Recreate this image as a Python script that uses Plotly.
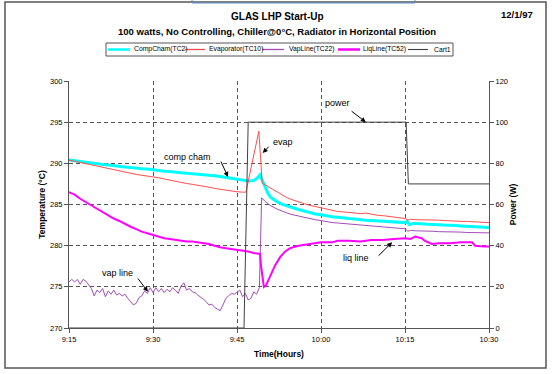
import plotly.graph_objects as go

# ---------------- data (minutes after 9:15) ----------------
tick_minutes = [0, 15, 30, 45, 60, 75]
tick_labels = ["9:15", "9:30", "9:45", "10:00", "10:15", "10:30"]

comp_t = [0,1,2,3,4,5,6,7,8,9,10,11,12,13,14,15,16,17,18,19,20,21,22,23,24,25,26,27,28,29,30,31,32,33,33.6,34.1,34.5,35,35.5,36,37,38,39,40,41,42,43,44,45,46,47,48,49,50,51,52,53,54,55,56,57,58,59,60,60.4,60.8,61.5,62,63,64,65,66,67,68,69,70,71,72,73,74,75]
comp_v = [290.4,290.3,290.2,290.1,290.0,289.9,289.85,289.8,289.7,289.6,289.55,289.5,289.4,289.35,289.3,289.2,289.15,289.05,289.0,288.9,288.85,288.8,288.75,288.7,288.6,288.55,288.5,288.4,288.3,288.15,288.05,287.95,287.85,287.9,288.2,288.6,287.9,287.1,286.4,285.9,285.4,285.05,284.8,284.6,284.4,284.2,284.05,283.85,283.75,283.6,283.5,283.45,283.35,283.3,283.25,283.15,283.1,283.05,283.0,282.95,282.95,282.9,282.85,282.8,282.95,282.55,282.7,282.7,282.65,282.6,282.6,282.55,282.5,282.5,282.45,282.4,282.35,282.35,282.3,282.25,282.2]

evap_t = [0,1,2,3,4,5,6,7,8,9,10,11,12,13,14,15,16,17,18,19,20,21,22,23,24,25,26,27,28,29,30,31,31.6,33.9,34.5,35,36,37,38,39,40,41,42,43,44,45,46,47,48,49,50,51,52,53,54,55,56,57,58,59,60,60.5,61,62,63,64,65,66,67,68,69,70,71,72,73,74,75]
evap_v = [290.4,290.25,290.1,289.95,289.8,289.65,289.5,289.35,289.2,289.05,288.9,288.8,288.65,288.55,288.45,288.4,288.25,288.1,287.95,287.8,287.7,287.55,287.45,287.35,287.2,287.1,286.95,286.85,286.7,286.6,286.55,286.5,286.5,293.9,287.6,287.4,287.0,286.5,286.1,285.8,285.55,285.3,285.1,284.9,284.75,284.6,284.4,284.3,284.15,284.1,284.05,283.95,283.9,283.95,283.8,283.7,283.65,283.55,283.45,283.4,283.3,283.1,283.2,283.15,283.15,283.1,283.1,283.1,283.05,283.0,283.0,282.95,282.95,282.9,282.85,282.8,282.8]

vap_t = [0,0.5,1,1.5,2,2.5,3,3.5,4,4.5,5,5.5,6,6.5,7,7.5,8,8.5,9,9.5,10,10.5,11,11.5,12,12.5,13,13.5,14,14.5,15,15.5,16,16.5,17,17.5,18,18.5,19,19.5,20,20.5,21,21.5,22,22.5,23,23.5,24,24.5,25,25.5,26,26.5,27,27.5,28,28.5,29,29.5,30,30.5,31,31.5,32,32.5,33,33.5,34,34.4,35,35.9,37,38,39,40,41,42,43,44,45,46,47,48,49,50,51,52,53,54,55,56,57,58,59,60,60.5,61,62,63,64,65,66,67,68,69,70,71,72,73,74,75]
vap_v = [275.6,275.9,275.6,275.9,275.3,275.9,275.7,275.3,274.8,273.9,274.6,274.3,274.8,273.8,274.5,274.1,274.6,274.0,274.2,273.9,274.1,273.6,273.2,272.8,273.0,273.7,273.9,274.5,274.2,274.9,274.3,274.9,274.4,274.8,274.3,274.7,274.4,274.9,274.6,274.2,275.1,275.5,274.6,274.8,274.4,274.3,274.0,273.8,273.5,273.2,272.8,272.9,272.5,272.3,272.1,272.8,273.6,273.9,274.2,274.1,274.4,274.6,273.8,274.2,273.4,273.6,274.4,274.1,274.9,285.8,285.4,284.9,284.5,284.2,283.95,283.75,283.6,283.4,283.3,283.15,283.05,282.9,282.8,282.75,282.7,282.6,282.55,282.5,282.45,282.4,282.35,282.3,282.2,282.15,282.1,282.05,281.75,281.85,281.8,281.8,281.75,281.75,281.7,281.7,281.7,281.65,281.65,281.6,281.6,281.6,281.55,281.55]

liq_t = [0,1,2,3,4,5,6,7,8,9,10,11,12,13,14,15,16,17,18,19,20,21,22,23,24,25,26,27,28,29,30,31,32,33,34.1,34.3,34.8,35.2,35.9,36.8,37.7,38.6,39.5,41,43,45,47,48,50,52,54,56,58,60,61,61.8,63,63.5,64.8,66,68,70,72,72.5,74,75]
liq_v = [286.5,286.2,285.7,285.3,284.8,284.4,284.0,283.6,283.3,283.0,282.6,282.3,282.0,281.7,281.5,281.3,281.1,280.9,280.8,280.7,280.6,280.5,280.5,280.4,280.3,280.2,280.0,279.8,279.7,279.6,279.5,279.4,279.3,279.1,279.0,277.5,275.0,275.2,276.3,277.6,278.6,279.3,279.7,280.0,280.2,280.4,280.4,280.6,280.6,280.5,280.7,280.7,280.8,280.9,280.8,281.1,280.9,280.6,280.2,280.3,280.3,280.4,280.4,280.0,279.9,279.9]

power_t = [0, 31.25, 32, 60.2, 60.6, 75]
power_w = [0, 0, 100, 100, 70, 70]

series_names = ["CompCham(TC2)", "Evaporator(TC10)", "VapLine(TC22)", "LiqLine(TC52)", "Cart1"]
series_colors = ["#00FFFF", "#FF4D4D", "#A24DB8", "#FF00FF", "#404040"]
series_widths = [3, 1, 1, 2, 1]
legend_widths = [2.5, 1.3, 1.3, 2.5, 1.1]

FONT = "Liberation Sans, Arial, sans-serif"

fig = go.Figure()
xs = [comp_t, evap_t, vap_t, liq_t, power_t]
ys = [comp_v, evap_v, vap_v, liq_v, power_w]
for i in range(5):
    fig.add_trace(go.Scatter(x=xs[i], y=ys[i], mode="lines", name=series_names[i],
                             yaxis="y2" if i == 4 else "y", showlegend=False,
                             line=dict(color=series_colors[i], width=series_widths[i])))

def px2paper(px, py):
    return (px - 69) / 420.0, (328 - py) / 247.0

ann = []
shapes = []
# titles
for txt, (px, py), size in [("<b>GLAS LHP Start-Up</b>", (277, 16), 10),
                            ("<b>100 watts, No Controlling, Chiller@0°C, Radiator in Horizontal Position</b>", (277, 31), 9.5),
                            ("<b>12/1/97</b>", (517, 15), 9.5)]:
    x, y = px2paper(px, py)
    ann.append(dict(text=txt, x=x, y=y, xref="paper", yref="paper", showarrow=False,
                    xanchor="center", yanchor="middle", font=dict(size=size, color="black", family=FONT)))

# legend box (drawn as shapes + text)
lx0, ly0 = px2paper(106, 56)
lx1, ly1 = px2paper(453, 43)
shapes.append(dict(type="rect", xref="paper", yref="paper", x0=lx0, y0=ly0, x1=lx1, y1=ly1,
                   line=dict(color="#555555", width=1), fillcolor="white", layer="below"))
leg_line_px = [(108, 130), (185, 205), (262, 284), (338, 360), (408, 428)]
leg_text_px = [132, 207, 287, 361, 432]
for i in range(5):
    a, yy = px2paper(leg_line_px[i][0], 49.5)
    b, _ = px2paper(leg_line_px[i][1], 49.5)
    shapes.append(dict(type="line", xref="paper", yref="paper", x0=a, x1=b, y0=yy, y1=yy,
                       line=dict(color=series_colors[i], width=legend_widths[i])))
    tx, _ = px2paper(leg_text_px[i], 49.5)
    ann.append(dict(text=series_names[i], x=tx, y=yy, xref="paper", yref="paper", showarrow=False,
                    xanchor="left", yanchor="middle", font=dict(size=6.8, color="black", family=FONT)))

# labels + arrows (data coords)
labels = [("comp cham", 21.1, 290.8, "y"), ("evap", 38.2, 292.6, "y"),
          ("power", 47.9, 109.3, "y2"), ("vap line", 8.6, 276.7, "y"), ("liq line", 51.25, 278.5, "y")]
for txt, x, y, yr in labels:
    ann.append(dict(text=txt, x=x, y=y, xref="x", yref=yr, showarrow=False,
                    font=dict(size=9, color="black", family=FONT)))
arrows = [(27.0, 290.4, 28.4, 288.35, "y"), (35.9, 292.2, 34.6, 291.25, "y"),
          (50.2, 105.9, 53.0, 100.0, "y2"), (12.1, 276.2, 14.1, 274.4, "y"),
          (55.0, 278.6, 57.7, 280.4, "y")]
for ax_, ay_, x, y, yr in arrows:
    ann.append(dict(text="", x=x, y=y, xref="x", yref=yr, ax=ax_, ay=ay_, axref="x", ayref=yr,
                    showarrow=True, arrowhead=2, arrowsize=1, arrowwidth=1, arrowcolor="black", standoff=0))

fx0, fy0 = px2paper(5, 368)
fx1, fy1 = px2paper(546, 2)
bx0, by0 = px2paper(192, 3)
bx1, by1 = px2paper(415, -3)
shapes += [dict(type="rect", xref="paper", yref="paper", x0=fx0, y0=fy0, x1=fx1, y1=fy1,
                line=dict(color="#555555", width=1.5), layer="below"),
           dict(type="rect", xref="paper", yref="paper", x0=bx0, y0=by0, x1=bx1, y1=by1,
                line=dict(color="#5B8FC7", width=1))]

axis_common = dict(showline=True, linecolor="#555555", linewidth=1, ticks="outside", ticklen=4,
                   tickcolor="#555555", tickfont=dict(size=7.5, color="black", family=FONT),
                   automargin=False, zeroline=False)

fig.update_layout(
    width=554, height=374, autosize=False,
    margin=dict(l=69, r=65, t=81, b=46),
    paper_bgcolor="white", plot_bgcolor="white",
    font=dict(family=FONT, color="black"),
    showlegend=False,
    xaxis=dict(range=[0, 75], tickvals=tick_minutes, ticktext=tick_labels,
               showgrid=True, gridcolor="#555555", griddash="4px,3px", gridwidth=1,
               title=dict(text="<b>Time(Hours)</b>", font=dict(size=8.5, family=FONT), standoff=8),
               **axis_common),
    yaxis=dict(range=[270, 300], dtick=5, showgrid=True, gridcolor="#555555", griddash="4px,3px",
               gridwidth=1,
               title=dict(text="<b>Temperature (°C)</b>", font=dict(size=8.5, family=FONT), standoff=3),
               **axis_common),
    yaxis2=dict(range=[0, 120], dtick=20, overlaying="y", side="right", showgrid=False,
                title=dict(text="<b>Power (W)</b>", font=dict(size=8.5, family=FONT), standoff=3),
                **axis_common),
    annotations=ann,
    shapes=shapes,
)

fig.write_html("out.html", config={"displayModeBar": False},
               post_script="document.body.style.margin='0px';document.body.style.overflow='hidden';")
